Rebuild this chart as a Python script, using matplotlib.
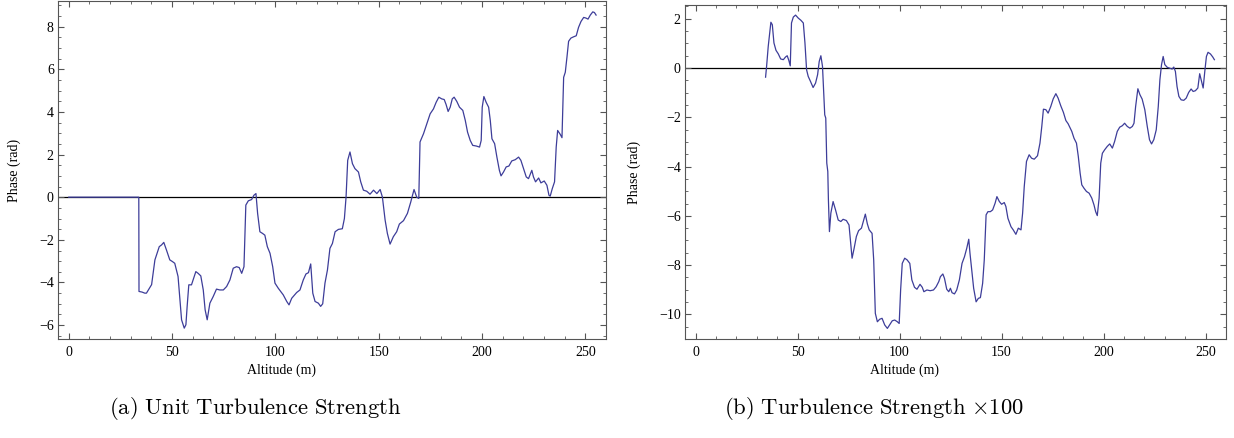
import numpy as np
import matplotlib
matplotlib.use("Agg")
import matplotlib.pyplot as plt
from matplotlib.ticker import MultipleLocator

plt.rcParams['font.family'] = ['Liberation Serif', 'DejaVu Serif']
plt.rcParams['mathtext.fontset'] = 'cm'

#   (a) unit turbulence strength: altitude (m), phase (rad)
alt_a = [0, 33.9, 34.0, 35.5, 36.8, 37.6, 40.1, 41.7, 43.8, 44.9, 46.0, 47.3, 48.9, 50.2, 51.3,
         52.9, 53.8, 54.6, 55.9, 56.7, 57.3, 58.1, 59.4, 60.2, 61.5, 62.6, 63.9, 65.1, 66.0, 67.0,
         68.3, 69.9, 71.5, 73.1, 74.8, 76.4, 78.0, 79.6, 81.2, 82.5, 83.7, 84.8, 85.7, 86.9, 88.5,
         89.6, 90.6, 91.4, 92.5, 93.8, 94.9, 96.1, 97.4, 98.7, 99.8, 101.4, 103.8, 105.5, 106.6,
         107.9, 110.3, 111.9, 113.5, 114.8, 116.0, 117.1, 118.1, 119.2, 120.8, 121.9, 122.9, 124.0,
         125.2, 126.4, 127.6, 128.9, 130.5, 132.4, 133.4, 134.2, 135.0, 136.1, 137.3, 138.5, 140.2,
         141.3, 142.6, 144.2, 145.8, 147.5, 149.1, 150.7, 151.8, 153.1, 154.2, 155.5, 157.1, 158.7,
         160.0, 162.0, 163.9, 165.5, 167.1, 168.4, 169.4, 170.0, 171.7, 173.3, 174.9, 176.5, 177.8,
         179.1, 180.5, 181.7, 182.6, 183.6, 184.6, 185.6, 186.5, 187.8, 189.1, 190.7, 191.9, 193.0,
         194.3, 195.5, 197.2, 198.8, 199.6, 200.1, 200.9, 202.0, 203.2, 204.0, 204.8, 206.1, 207.2,
         208.4, 209.2, 210.4, 211.7, 213.0, 214.4, 216.1, 217.7, 218.8, 220.1, 221.4, 222.5, 224.1,
         224.9, 225.9, 227.4, 228.5, 230.1, 231.4, 232.4, 233.0, 234.0, 235.1, 235.9, 236.6, 237.9,
         238.7, 239.5, 240.3, 241.1, 241.9, 243.0, 244.3, 245.6, 246.7, 247.9, 249.2, 250.3, 251.3,
         252.4, 253.6, 254.4, 255.2]
phase_a = [0, 0, -4.42, -4.45, -4.5, -4.5, -4.1, -2.94, -2.32, -2.24, -2.12, -2.48, -2.94, -3.02, -3.1,
           -3.72, -4.81, -5.75, -6.14, -5.98, -5.12, -4.11, -4.11, -3.88, -3.49, -3.57, -3.69, -4.35, -5.28, -5.75,
           -4.97, -4.66, -4.31, -4.35, -4.35, -4.19, -3.88, -3.33, -3.26, -3.30, -3.57, -3.26, -0.37, -0.17, -0.11,
           0.09, 0.17, -0.76, -1.62, -1.70, -1.78, -2.32, -2.63, -3.26, -4.03, -4.27, -4.58, -4.89, -5.05,
           -4.74, -4.47, -4.35, -3.88, -3.6, -3.54, -3.13, -4.5, -4.89, -4.97, -5.12, -5.0, -4.03,
           -3.41, -2.40, -2.17, -1.62, -1.51, -1.48, -1.0, 0.0, 1.73, 2.12, 1.57, 1.34, 1.18,
           0.72, 0.33, 0.28, 0.14, 0.33, 0.17, 0.36, 0.0, -1.07, -1.70, -2.2, -1.85, -1.62,
           -1.26, -1.1, -0.76, -0.23, 0.36, 0.0, -0.06, 2.59, 2.98, 3.44, 3.91, 4.14, 4.45,
           4.69, 4.61, 4.58, 4.35, 4.02, 4.22, 4.61, 4.69, 4.49, 4.22, 4.07, 3.6, 3.05,
           2.66, 2.43, 2.40, 2.35, 2.66, 4.22, 4.72, 4.45, 4.22, 3.60, 2.74, 2.51, 1.88,
           1.26, 1.0, 1.18, 1.42, 1.46, 1.70, 1.76, 1.88, 1.73, 1.34, 0.95, 0.87, 1.26,
           0.95, 0.72, 0.90, 0.67, 0.76, 0.56, 0.09, 0.05, 0.4, 0.72, 2.35, 3.13, 2.94,
           2.79, 5.62, 5.86, 6.56, 7.31, 7.46, 7.52, 7.57, 7.96, 8.24, 8.43, 8.40, 8.35,
           8.54, 8.69, 8.66, 8.54]

#   (b) turbulence strength x100
alt_b = [34.3, 34.8, 35.6, 36.9, 37.6, 38.4, 39.4, 40.5, 41.7, 43.0, 44.1, 44.9, 45.7, 46.4, 47.0,
         47.9, 49.0, 50.3, 51.6, 52.8, 53.6, 54.4, 55.2, 56.3, 57.6, 58.8, 59.8, 60.6, 61.4, 62.2,
         62.9, 63.3, 63.8, 64.3, 64.8, 65.1, 65.6, 66.3, 67.4, 68.6, 69.9, 71.2, 72.3, 73.9, 75.2,
         76.0, 76.7, 77.7, 78.8, 79.9, 81.3, 82.2, 83.2, 84.2, 85.1, 86.5, 87.3, 88.1, 89.1, 90.2,
         91.4, 92.7, 94.0, 95.1, 96.4, 97.6, 98.9, 99.8, 100.5, 101.3, 102.5, 103.7, 105.0, 106.0,
         107.3, 108.5, 110.0, 111.1, 111.9, 113.4, 115.0, 116.6, 117.9, 119.2, 120.0, 121.2, 122.0,
         123.1, 124.1, 124.9, 125.7, 126.9, 128.0, 129.3, 130.6, 131.8, 132.9, 133.9, 134.5, 135.5,
         136.3, 137.5, 138.6, 139.6, 140.7, 141.5, 142.4, 143.3, 144.5, 145.6, 146.8, 147.7, 148.9,
         150.0, 151.3, 152.1, 153.1, 154.6, 155.7, 157.0, 158.2, 159.5, 160.3, 161.1, 162.2, 163.5,
         164.7, 166.0, 167.6, 168.8, 169.7, 170.5, 171.7, 172.8, 174.1, 175.3, 176.6, 177.7, 179.0,
         180.3, 181.5, 182.6, 184.4, 185.5, 186.7, 187.6, 188.5, 189.3, 190.4, 191.6, 192.9, 194.2,
         195.3, 196.1, 196.9, 197.8, 198.6, 199.4, 200.5, 201.8, 203.0, 204.3, 205.4, 206.7, 207.9,
         209.2, 210.3, 211.6, 212.9, 214.1, 214.9, 215.7, 216.8, 217.8, 218.9, 220.2, 221.4, 222.5,
         223.5, 224.6, 225.8, 226.8, 227.6, 228.4, 229.2, 230.0, 231.2, 232.3, 233.6, 234.4, 235.2,
         236.0, 236.9, 238.0, 239.3, 240.5, 241.7, 242.9, 243.9, 245.0, 246.2, 247.1, 248.0, 248.8,
         249.6, 250.4, 251.2, 252.4, 253.5, 254.3]
phase_b = [-0.37, 0.07, 0.88, 1.86, 1.76, 1.02, 0.72, 0.58, 0.37, 0.34, 0.45, 0.5, 0.31, 0.09, 1.83,
           2.07, 2.15, 2.03, 1.94, 1.83, 1.02, -0.07, -0.34, -0.54, -0.79, -0.61, -0.27, 0.27, 0.5, 0.07,
           -1.15, -1.9, -2.03, -3.86, -4.2, -5.35, -6.64, -5.89, -5.42, -5.76, -6.17, -6.23, -6.14, -6.19, -6.37,
           -7.11, -7.72, -7.32, -6.84, -6.6, -6.5, -6.23, -5.93, -6.33, -6.57, -6.71, -7.79, -9.96, -10.3, -10.2,
           -10.16, -10.43, -10.57, -10.43, -10.26, -10.23, -10.3, -10.37, -9.01, -7.93, -7.72, -7.79, -7.93, -8.6,
           -8.9, -8.98, -8.78, -8.9, -9.08, -9.01, -9.04, -9.01, -8.88, -8.67, -8.47, -8.36, -8.54,
           -8.98, -9.08, -8.94, -9.12, -9.17, -9.01, -8.6, -7.93, -7.66, -7.32, -6.95, -7.52, -8.33,
           -8.94, -9.49, -9.35, -9.32, -8.74, -7.79, -5.96, -5.83, -5.83, -5.76, -5.49, -5.22, -5.42,
           -5.53, -5.46, -5.62, -6.1, -6.44, -6.57, -6.75, -6.5, -6.57, -5.89, -4.81, -3.79, -3.52,
           -3.66, -3.7, -3.56, -3.05, -2.37, -1.67, -1.69, -1.83, -1.56, -1.25, -1.04, -1.22, -1.53,
           -1.8, -2.13, -2.26, -2.57, -2.85, -3.05, -3.59, -4.27, -4.74, -4.88, -5.01, -5.08, -5.28,
           -5.56, -5.83, -5.99, -5.28, -3.86, -3.46, -3.32, -3.18, -3.08, -3.25, -2.98, -2.57, -2.4,
           -2.34, -2.24, -2.37, -2.44, -2.37, -2.24, -1.56, -0.84, -1.08, -1.26, -1.69, -2.37, -2.91,
           -3.08, -2.91, -2.51, -1.56, -0.47, 0.14, 0.47, 0.14, 0.03, 0.0, -0.04, 0.04, -0.14,
           -0.75, -1.15, -1.29, -1.31, -1.22, -0.99, -0.85, -0.95, -0.92, -0.81, -0.23, -0.54, -0.81,
           -0.14, 0.47, 0.64, 0.57, 0.45, 0.34]

captions = [r'$\mathrm{(a)\ Unit\ Turbulence\ Strength}$',
            r'$\mathrm{(b)\ Turbulence\ Strength}\ {\times}100$']

line_color = (0.24, 0.24, 0.6)
frame_color = '#555555'
W, H = 1234, 438

fig = plt.figure(figsize=(W / 100, H / 100), dpi=100)
ax1 = fig.add_axes([58 / W, 1 - 339 / H, 548 / W, 338 / H])
ax2 = fig.add_axes([685 / W, 1 - 339 / H, 541 / W, 334 / H])

def style(ax, ylim, xlab_x, ylab_x):
    ax.axhline(0, color='k', lw=0.9, zorder=1)
    ax.set_xlim(-5.2, 260)
    ax.set_ylim(*ylim)
    ax.xaxis.set_major_locator(MultipleLocator(50))
    ax.xaxis.set_minor_locator(MultipleLocator(10))
    ax.yaxis.set_major_locator(MultipleLocator(2))
    ax.yaxis.set_minor_locator(MultipleLocator(0.5))
    ax.tick_params(which='both', direction='in', top=True, right=True,
                   color=frame_color, labelsize=10)
    ax.tick_params(which='major', length=4.5, width=0.8)
    ax.tick_params(which='minor', length=2.3, width=0.6)
    ax.tick_params(axis='x', pad=5)
    ax.tick_params(axis='y', pad=3)
    for s in ax.spines.values():
        s.set_color(frame_color)
        s.set_linewidth(0.8)
    ax.set_xlabel('Altitude (m)', fontsize=10)
    ax.set_ylabel('Phase (rad)', fontsize=10)
    ax.xaxis.set_label_coords(xlab_x, -0.074)
    ax.yaxis.set_label_coords(ylab_x, 0.5)

ax1.plot(alt_a, phase_a, color=line_color, lw=0.9, zorder=2)
style(ax1, (-6.65, 9.2), 0.407, -0.067)

ax2.plot(alt_b, phase_b, color=line_color, lw=0.9, zorder=2)
style(ax2, (-11.0, 2.56), 0.405, -0.081)

fig.text(255 / W, 1 - 408 / H, captions[0], ha='center', va='center', fontsize=16.3)
fig.text(874 / W, 1 - 408 / H, captions[1], ha='center', va='center', fontsize=16.3)

fig.savefig('out.png', dpi=100)
